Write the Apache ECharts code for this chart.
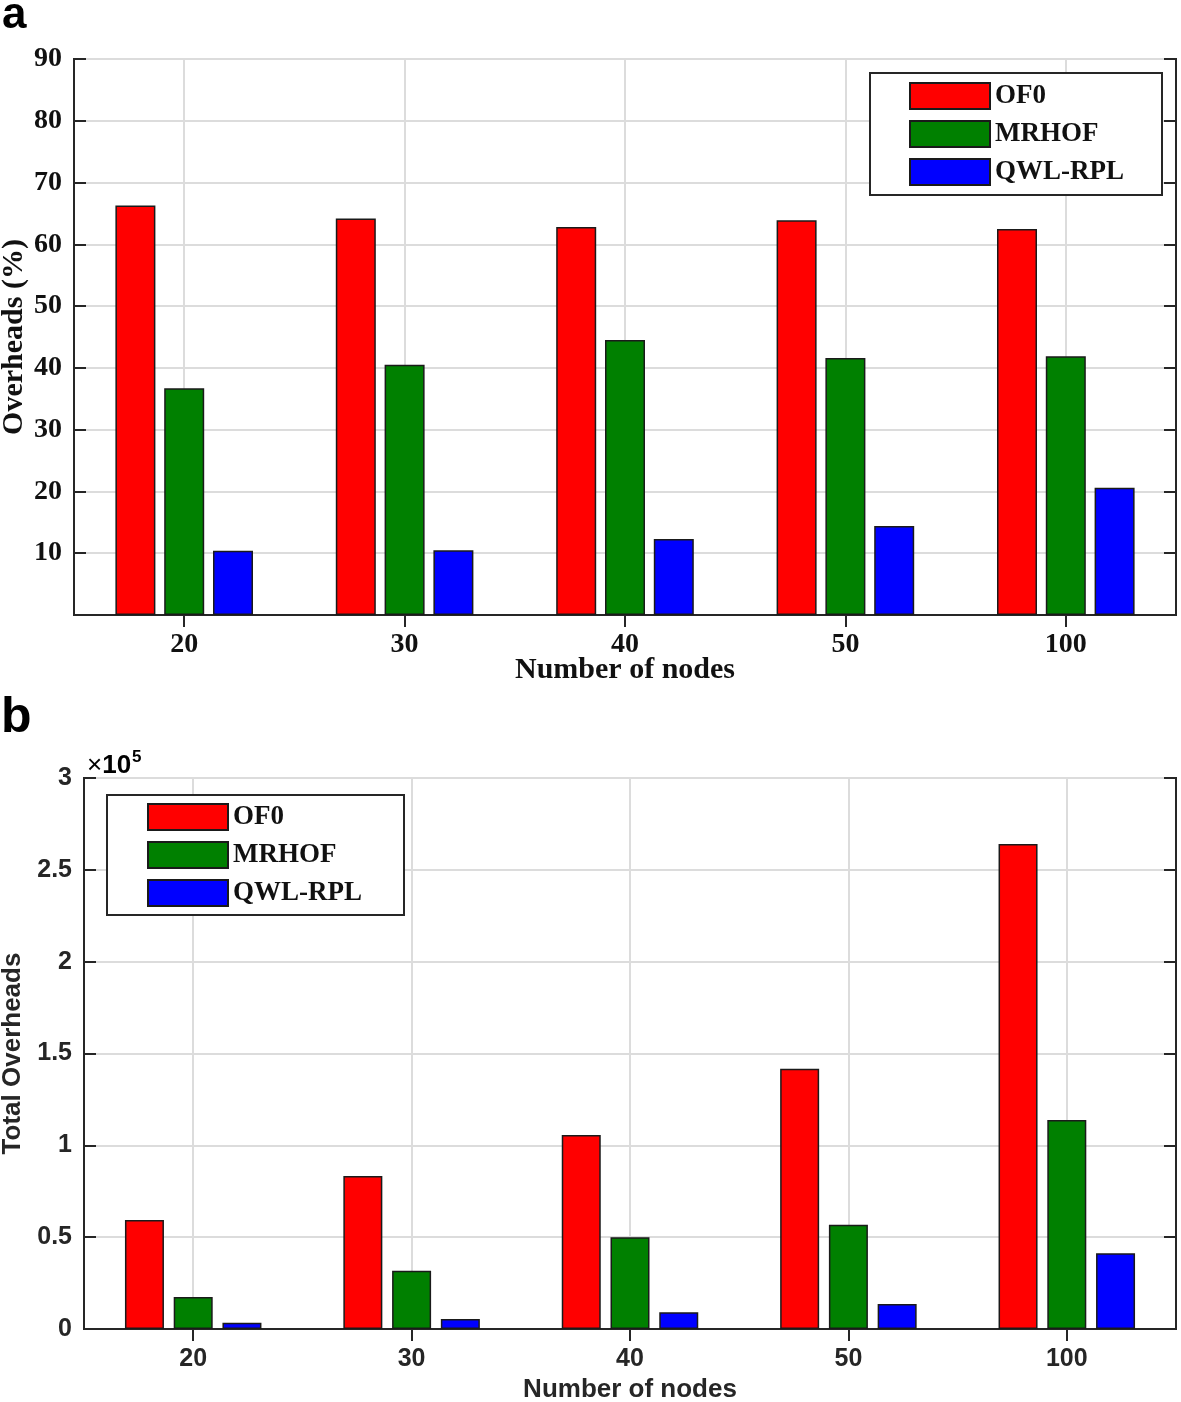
<!DOCTYPE html>
<html>
<head>
<meta charset="utf-8">
<script src="https://cdn.jsdelivr.net/npm/echarts@6/dist/echarts.min.js"></script>
<style>
html,body{margin:0;padding:0;background:#fff;}
#chart{width:1181px;height:1402px;}
</style>
</head>
<body>
<div id="chart"></div>
<script>
// ---- data ----
const categories = ['20', '30', '40', '50', '100'];
const seriesNames = ['OF0', 'MRHOF', 'QWL-RPL'];
// panel a: Overheads (%)
const overheadOF0 = [66.3, 64.2, 62.8, 63.9, 62.5];
const overheadMRHOF = [36.7, 40.5, 44.5, 41.6, 41.9];
const overheadQWL = [10.4, 10.5, 12.3, 14.4, 20.6];
// panel b: Total Overheads
const totalOF0 = [59300, 83300, 105600, 141700, 264000];
const totalMRHOF = [17400, 31700, 49900, 56800, 113800];
const totalQWL = [3400, 5400, 9100, 13600, 41200];
const colors = ['#ff0000', '#008000', '#0000ff'];

const SERIF = '"Liberation Serif", "Times New Roman", serif';
const SANS = '"Liberation Sans", Arial, sans-serif';
const AX = '#262626';
const GRIDC = '#dcdcdc';

function catAxis(gridIndex, pos, font, size, show, margin, name, nameGap) {
  return {
    type: 'category', gridIndex: gridIndex, position: pos, data: categories,
    boundaryGap: true,
    axisLine: {show: true, lineStyle: {color: AX, width: 2}},
    axisTick: {show: true, inside: true, alignWithLabel: true, length: 12, lineStyle: {color: AX, width: 2}},
    axisLabel: {show: show, margin: margin, color: show ? (font === SERIF ? '#111' : AX) : AX,
      fontFamily: font, fontWeight: 'bold', fontSize: size},
    splitLine: {show: pos === 'bottom', alignWithLabel: true, lineStyle: {color: GRIDC, width: 2}},
    name: name || '', nameLocation: 'middle', nameGap: nameGap || 0, nameMoveOverlap: false,
    nameTextStyle: {fontFamily: font, fontWeight: 'bold', fontSize: font === SERIF ? 30 : 26, color: font === SERIF ? '#111' : AX}
  };
}
function valAxis(gridIndex, pos, min, max, interval, font, size, show, formatter, name, nameGap) {
  return {
    type: 'value', gridIndex: gridIndex, position: pos, min: min, max: max, interval: interval,
    axisLine: {show: true, lineStyle: {color: AX, width: 2}},
    axisTick: {show: true, inside: true, length: 12, lineStyle: {color: AX, width: 2}},
    axisLabel: {show: show, margin: 12, color: font === SERIF ? '#111' : AX,
      fontFamily: font, fontWeight: 'bold', fontSize: size, formatter: formatter},
    splitLine: {show: pos === 'left', lineStyle: {color: GRIDC, width: 2}},
    name: name || '', nameLocation: 'middle', nameGap: nameGap || 0, nameRotate: 90, nameMoveOverlap: false,
    nameTextStyle: {fontFamily: font, fontWeight: 'bold', fontSize: font === SERIF ? 30 : 26, color: font === SERIF ? '#111' : AX}
  };
}
function barSeries(name, data, idx, xi, yi, bw, gap) {
  return {
    type: 'bar', name: name, data: data, xAxisIndex: xi, yAxisIndex: yi,
    barWidth: bw, barGap: gap,
    itemStyle: {color: colors[idx], borderColor: '#1a1a1a', borderWidth: 1.5},
    emphasis: {disabled: true}
  };
}
function legend(left, top, padding) {
  return {
    show: true, orient: 'vertical', left: left, top: top, data: seriesNames,
    itemWidth: 80, itemHeight: 26, itemGap: 10, padding: padding,
    backgroundColor: '#fff', borderColor: AX, borderWidth: 2, borderRadius: 0,
    icon: 'rect',
    textStyle: {fontFamily: SERIF, fontWeight: 'bold', fontSize: 27, color: '#111', lineHeight: 26},
    selectedMode: false
  };
}

const chart = echarts.init(document.getElementById('chart'), null, {renderer: 'canvas'});
chart.setOption({
  backgroundColor: '#fff',
  animation: false,
  grid: [
    {left: 74, top: 59, width: 1102, height: 556, show: true, borderColor: AX, borderWidth: 2, containLabel: false, outerBoundsMode: 'none'},
    {left: 84, top: 778, width: 1092, height: 551, show: true, borderColor: AX, borderWidth: 2, containLabel: false, outerBoundsMode: 'none'}
  ],
  legend: [
    legend(870, 73, [9, 38, 9, 39]),
    legend(107, 795, [8, 42, 8, 40])
  ],
  xAxis: [
    catAxis(0, 'bottom', SERIF, 28, true, 16, 'Number of nodes', 40),
    catAxis(0, 'top', SERIF, 28, false, 8),
    catAxis(1, 'bottom', SANS, 25, true, 18, 'Number of nodes', 48),
    catAxis(1, 'top', SANS, 25, false, 8)
  ],
  yAxis: [
    valAxis(0, 'left', 0, 90, 10, SERIF, 28, true, function (v) { return v === 0 ? '' : String(v); }, 'Overheads (%)', 45),
    valAxis(0, 'right', 0, 90, 10, SERIF, 28, false, null),
    valAxis(1, 'left', 0, 300000, 50000, SANS, 25, true, function (v) { return String(v / 100000); }, 'Total Overheads', 58),
    valAxis(1, 'right', 0, 300000, 50000, SANS, 25, false, null)
  ],
  series: [
    barSeries('OF0', overheadOF0, 0, 0, 0, 40, '22%'),
    barSeries('MRHOF', overheadMRHOF, 1, 0, 0, 40, '22%'),
    barSeries('QWL-RPL', overheadQWL, 2, 0, 0, 40, '22%'),
    barSeries('OF0', totalOF0, 0, 2, 2, 39, '25%'),
    barSeries('MRHOF', totalMRHOF, 1, 2, 2, 39, '25%'),
    barSeries('QWL-RPL', totalQWL, 2, 2, 2, 39, '25%')
  ],
  graphic: [
    {type: 'text', left: 2, top: -6, style: {text: 'a', font: 'bold 44px ' + SANS, fill: '#000'}},
    {type: 'text', left: 1, top: 693, style: {text: 'b', font: 'bold 50px ' + SANS, fill: '#000'}},
    {type: 'text', left: 87, top: 749, style: {
      text: '{x|×}{n|10}{s|5}',
      rich: {
        x: {fontFamily: SANS, fontSize: 26, fontWeight: 'normal', color: AX, verticalAlign: 'bottom', lineHeight: 30},
        n: {fontFamily: SANS, fontSize: 26, fontWeight: 'bold', color: AX, verticalAlign: 'bottom', lineHeight: 30},
        s: {fontFamily: SANS, fontSize: 17, fontWeight: 'bold', color: AX, verticalAlign: 'top', lineHeight: 30, padding: [0, 0, 12, 1]}
      }
    }}
  ]
});
</script>
</body>
</html>
